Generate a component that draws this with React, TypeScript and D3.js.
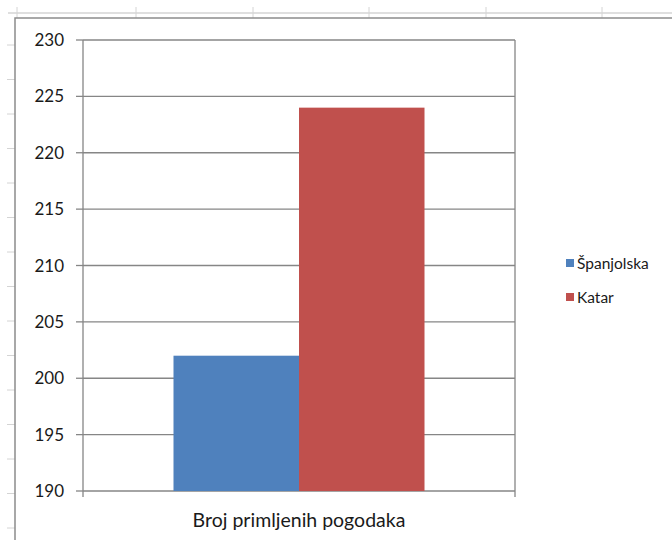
import React from "react";
import * as d3 from "d3";

const categories = ["Broj primljenih pogodaka"];
const seriesNames = ["Španjolska", "Katar"];
const spanjolska = [202];
const katar = [224];
const yTicks = [190, 195, 200, 205, 210, 215, 220, 225, 230];
const colors = ["#4F81BD", "#C0504D"];

const W = 672;
const H = 540;
const FONT = "Lato, 'Open Sans', sans-serif";

export default function App() {
  const plot = { left: 83, right: 515, top: 40, bottom: 491 };
  const y = d3.scaleLinear().domain([190, 230]).range([plot.bottom, plot.top]);
  const x0 = d3
    .scaleBand<string>()
    .domain(categories)
    .range([plot.left, plot.right])
    .paddingInner(0.265)
    .paddingOuter(0.265);
  const x1 = d3
    .scaleBand<string>()
    .domain(seriesNames)
    .range([0, x0.bandwidth()])
    .padding(0);
  const values = [spanjolska, katar];

  const colTicks = [17, 136, 253, 369, 486, 602];
  const rowTicks = d3.range(45, H, 34.5);

  return (
    <div style={{ position: "fixed", left: 0, top: 0 }}>
      <svg width={W} height={H} style={{ display: "block", background: "#fff" }}>
        {/* spreadsheet background */}
        <line x1={8} x2={W} y1={13} y2={13} stroke="#d4d4d4" strokeWidth={1.5} />
        {colTicks.map((cx, i) => (
          <line key={"c" + i} x1={cx} x2={cx} y1={7} y2={18} stroke="#d4d4d4" strokeWidth={1} />
        ))}
        {rowTicks.map((ry, i) => (
          <line key={"r" + i} x1={7} x2={15} y1={ry} y2={ry} stroke="#d4d4d4" strokeWidth={1} />
        ))}
        {/* chart area border */}
        <rect x={15} y={18} width={W} height={H} fill="#fff" stroke="#8c8c8c" strokeWidth={1.5} />

        {/* gridlines */}
        {yTicks.map((t) => (
          <line
            key={"g" + t}
            x1={plot.left}
            x2={plot.right}
            y1={y(t)}
            y2={y(t)}
            stroke="#868686"
            strokeWidth={1.3}
          />
        ))}
        {/* bars */}
        {categories.map((c, ci) => (
          <g key={c} transform={`translate(${x0(c)},0)`}>
            {seriesNames.map((s, si) => (
              <rect
                key={s}
                x={x1(s)}
                y={y(values[si][ci])}
                width={x1.bandwidth()}
                height={y(190) - y(values[si][ci])}
                fill={colors[si]}
              />
            ))}
          </g>
        ))}
        {/* axes */}
        <line x1={plot.left} x2={plot.left} y1={plot.top} y2={plot.bottom} stroke="#868686" strokeWidth={1.3} />
        <line x1={plot.right} x2={plot.right} y1={plot.top} y2={plot.bottom + 6} stroke="#868686" strokeWidth={1.3} />
        <line x1={plot.left} x2={plot.left} y1={plot.bottom} y2={plot.bottom + 6} stroke="#868686" strokeWidth={1.3} />
        {yTicks.map((t) => (
          <g key={"t" + t}>
            <line x1={plot.left - 7} x2={plot.left} y1={y(t)} y2={y(t)} stroke="#868686" strokeWidth={1.3} />
            <text
              x={64}
              y={y(t)}
              dy="0.36em"
              textAnchor="end"
              fontFamily={FONT}
              fontSize={17}
              fill="#1a1a1a"
            >
              {t}
            </text>
          </g>
        ))}
        {categories.map((c) => (
          <text
            key={"xl" + c}
            x={(x0(c) as number) + x0.bandwidth() / 2}
            y={520}
            dy="0.36em"
            textAnchor="middle"
            fontFamily={FONT}
            fontSize={19.5}
            fill="#1a1a1a"
          >
            {c}
          </text>
        ))}
        {/* legend */}
        {seriesNames.map((s, i) => (
          <g key={"lg" + s} transform={`translate(566,${263 + i * 34})`}>
            <rect x={0} y={-4} width={8} height={8} fill={colors[i]} />
            <text x={11} y={0} dy="0.36em" fontFamily={FONT} fontSize={15.5} fill="#1a1a1a">
              {s}
            </text>
          </g>
        ))}
      </svg>
    </div>
  );
}
